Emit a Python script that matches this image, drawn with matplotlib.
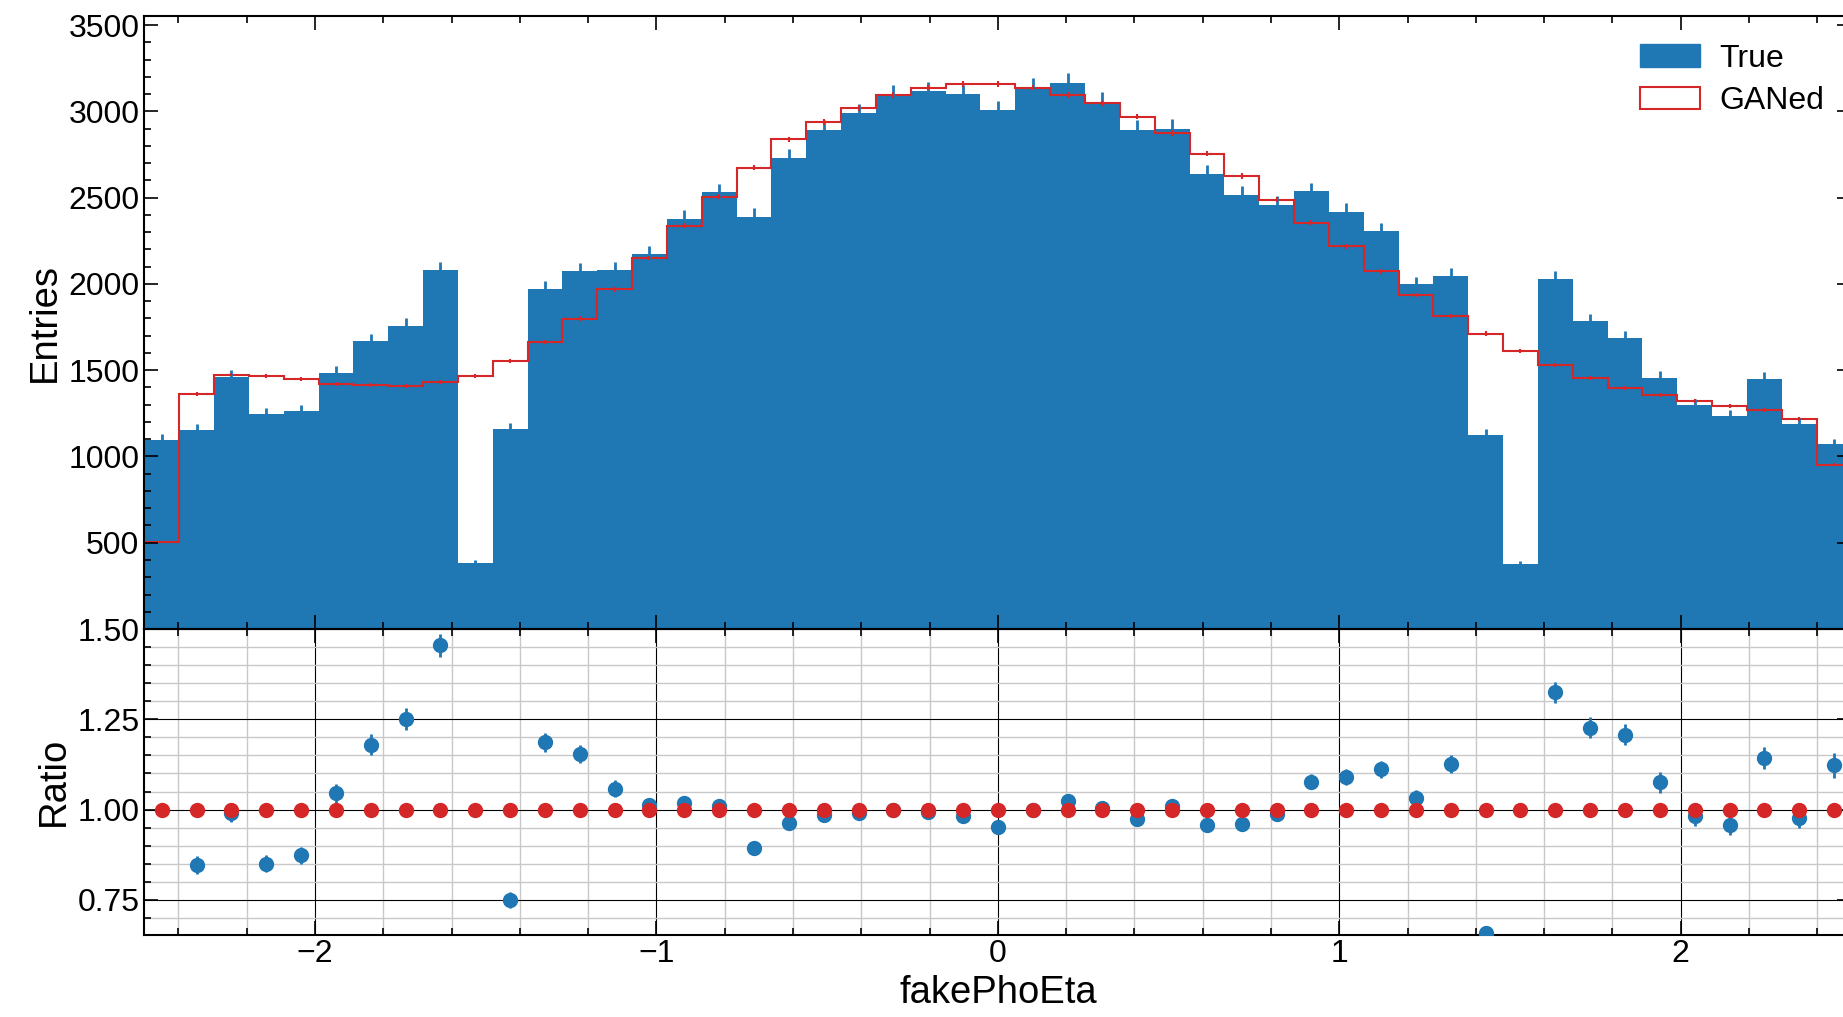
"""True vs GANed fakePhoEta histogram with ratio panel."""
import numpy as np
import matplotlib
matplotlib.use("Agg")
import matplotlib.pyplot as plt
from matplotlib.patches import Patch
from matplotlib.ticker import MultipleLocator, FuncFormatter

plt.rcParams["font.family"] = ["Liberation Sans", "DejaVu Sans"]
plt.rcParams["font.size"] = 27.5
plt.rcParams["axes.linewidth"] = 1.5

# 49 bins in [-2.5, 2.5]
edges = np.linspace(-2.5, 2.5, 50)
centers = 0.5 * (edges[1:] + edges[:-1])

true_counts = [1095, 1154, 1461, 1246, 1263, 1485, 1667, 1759, 2083, 383,
               1161, 1971, 2075, 2083, 2175, 2378, 2530, 2390, 2732, 2894,
               2989, 3096, 3117, 3100, 3008, 3138, 3166, 3056, 2894, 2900,
               2637, 2517, 2460, 2536, 2418, 2304, 1997, 2046, 1126, 375,
               2030, 1783, 1688, 1457, 1297, 1235, 1450, 1188, 1070]
gan_counts = [505, 1362, 1475, 1466, 1447, 1421, 1413, 1407, 1431, 1468,
              1551, 1662, 1799, 1969, 2150, 2338, 2505, 2673, 2838, 2937,
              3020, 3096, 3138, 3157, 3157, 3138, 3096, 3046, 2970, 2875,
              2755, 2625, 2489, 2354, 2217, 2073, 1936, 1815, 1712, 1610,
              1532, 1454, 1398, 1355, 1320, 1291, 1268, 1216, 953]

true_counts = np.array(true_counts, dtype=float)
gan_counts = np.array(gan_counts, dtype=float)
true_err = np.sqrt(true_counts)
gan_err = 0.3 * np.sqrt(gan_counts)

ratio = true_counts / gan_counts
ratio_err = true_err / gan_counts

BLUE = "#1f77b4"
RED = "#d62728"
TICK_FS = 23

fig = plt.figure(figsize=(18.43, 10.17), dpi=100)
ax = fig.add_axes([0.0783, 0.3815, 0.9263, 0.6023])
rax = fig.add_axes([0.0783, 0.0811, 0.9263, 0.3004], sharex=ax)

# main panel
ax.stairs(true_counts, edges, fill=True, color=BLUE)
ax.errorbar(centers, true_counts, yerr=true_err, fmt="none", ecolor=BLUE, elinewidth=2)
ax.stairs(gan_counts, edges, color=RED, lw=1.5)
ax.errorbar(centers, gan_counts, yerr=gan_err, fmt="none", ecolor=RED, elinewidth=1.5)
ax.set_ylim(0, 3550)
ax.set_xlim(-2.5, 2.5)
ax.set_ylabel("Entries")
ax.yaxis.set_major_locator(MultipleLocator(500))
ax.yaxis.set_minor_locator(MultipleLocator(100))
ax.yaxis.set_major_formatter(FuncFormatter(lambda v, p: "" if v == 0 else f"{v:.0f}"))
ax.tick_params(labelbottom=False)

handles = [Patch(facecolor=BLUE, edgecolor=BLUE, label="True"),
           Patch(facecolor="none", edgecolor=RED, lw=1.5, label="GANed")]
ax.legend(handles=handles, loc="upper right", frameon=False, fontsize=TICK_FS,
          handlelength=1.9, handleheight=0.7, handletextpad=0.6,
          labelspacing=0.4, borderaxespad=0.45)

# ratio panel
rax.errorbar(centers, ratio, yerr=ratio_err, fmt="o", color=BLUE, ms=10,
             elinewidth=2, capsize=0, zorder=3)
rax.errorbar(centers, np.ones_like(centers), fmt="o", color=RED, ms=10, zorder=4)
rax.set_ylim(0.654, 1.5)
rax.set_ylabel("Ratio")
rax.set_xlabel("fakePhoEta")
rax.yaxis.set_major_locator(MultipleLocator(0.25))
rax.yaxis.set_minor_locator(MultipleLocator(0.05))
rax.xaxis.set_major_locator(MultipleLocator(1))
rax.xaxis.set_minor_locator(MultipleLocator(0.2))
rax.grid(which="major", color="black", lw=0.8)
rax.grid(which="minor", color="#c8c8c8", lw=1.0)
rax.set_axisbelow(True)

for a in (ax, rax):
    a.tick_params(which="both", direction="in", top=True, right=True,
                  labelsize=TICK_FS, width=1.2)
    a.tick_params(which="major", length=10)
    a.tick_params(which="minor", length=5)

fig.savefig("out.png", dpi=100)
